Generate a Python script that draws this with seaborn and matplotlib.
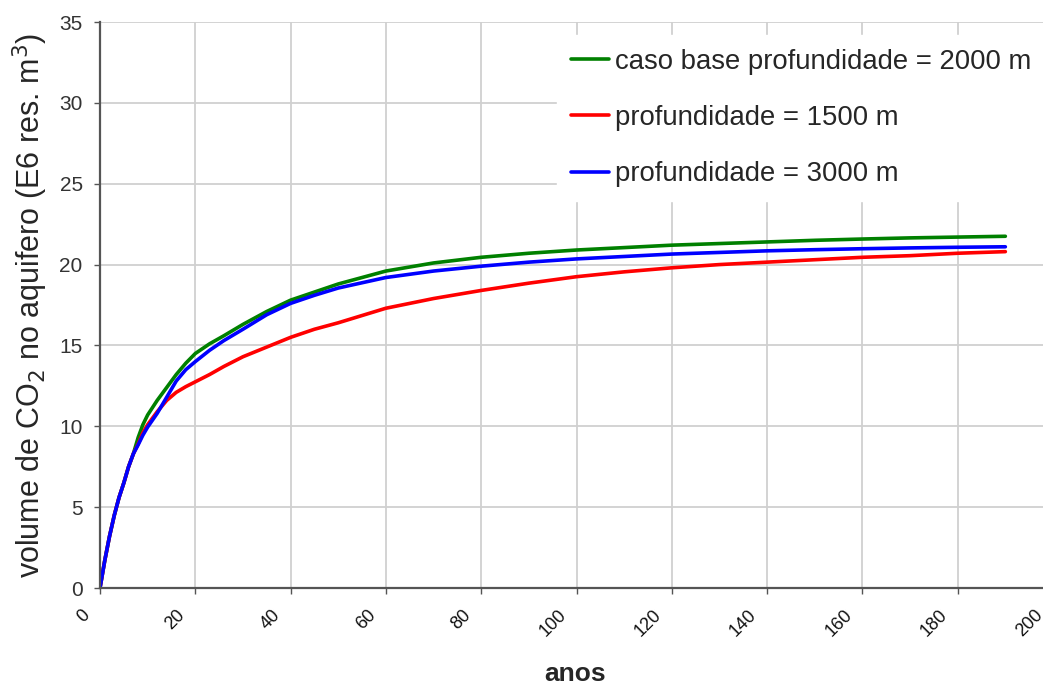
import numpy as np
import pandas as pd
import matplotlib
matplotlib.use("Agg")
import matplotlib.pyplot as plt
import matplotlib.transforms as mtransforms
import seaborn as sns

anos = [0, 1, 2, 3, 4, 5, 6, 7, 8, 9, 10, 12, 14, 16, 18, 20, 23, 26, 30, 35, 40,
        45, 50, 60, 70, 80, 90, 100, 110, 120, 130, 140, 150, 160, 170, 180, 190]
early = [0, 1.7, 3.2, 4.5, 5.6, 6.5, 7.5, 8.3]
base_2000 = early + [9.3, 10.1, 10.7, 11.6, 12.4, 13.2, 13.9, 14.5, 15.1, 15.6, 16.3,
                     17.1, 17.8, 18.3, 18.8, 19.6, 20.1, 20.45, 20.7, 20.9, 21.05,
                     21.2, 21.3, 21.4, 21.5, 21.58, 21.65, 21.7, 21.75]
prof_1500 = early + [8.9, 9.6, 10.1, 10.9, 11.6, 12.1, 12.45, 12.75, 13.2, 13.7, 14.3,
                     14.9, 15.5, 16.0, 16.4, 17.3, 17.9, 18.4, 18.85, 19.25, 19.55,
                     19.8, 20.0, 20.15, 20.3, 20.45, 20.55, 20.7, 20.8]
prof_3000 = early + [8.85, 9.45, 9.95, 10.8, 11.8, 12.8, 13.5, 14.0, 14.7, 15.3, 16.0,
                     16.9, 17.6, 18.1, 18.55, 19.2, 19.6, 19.9, 20.15, 20.35, 20.5,
                     20.65, 20.75, 20.85, 20.92, 20.98, 21.03, 21.07, 21.1]
series_names = ["caso base profundidade = 2000 m", "profundidade = 1500 m",
                "profundidade = 3000 m"]
colors = ["#008000", "#ff0000", "#0000ff"]
x_ticks = list(range(0, 201, 20))
y_ticks = list(range(0, 36, 5))

df = pd.concat([
    pd.DataFrame({"anos": anos, "volume": vals, "serie": name})
    for name, vals in zip(series_names, [base_2000, prof_1500, prof_3000])
])

sns.set_theme(style="white")
plt.rcParams["font.family"] = ["Liberation Sans", "DejaVu Sans"]

fig = plt.figure(figsize=(10.43, 6.88), dpi=100)
W, H = 1043.0, 688.0
ax = fig.add_axes([100 / W, 100 / H, 953 / W, 566 / H])

sns.lineplot(data=df, x="anos", y="volume", hue="serie", hue_order=series_names,
             palette=colors, linewidth=2.6, ax=ax, sort=False)

ax.set_xlim(0, 200)
ax.set_ylim(0, 35)
ax.set_xticks(x_ticks)
ax.set_yticks(y_ticks)
ax.grid(True, color="#d0d0d0", linewidth=1.3)
ax.set_axisbelow(True)
for s in ["top", "right"]:
    ax.spines[s].set_visible(False)
for s in ["left", "bottom"]:
    ax.spines[s].set_color("#555555")
    ax.spines[s].set_linewidth(1.6)
ax.tick_params(axis="both", which="major", direction="out", length=4.5, width=1,
               color="#555555", bottom=True, left=True)
ax.tick_params(axis="y", labelsize=15, labelcolor="#333333", pad=8)
ax.tick_params(axis="x", labelsize=13, labelcolor="#111111", pad=8)
offset = mtransforms.ScaledTranslation(-0.19, -0.01, fig.dpi_scale_trans)
for lab in ax.get_xticklabels():
    lab.set_rotation(45)
    lab.set_ha("right")
    lab.set_rotation_mode("anchor")
    lab.set_transform(lab.get_transform() + offset)

ax.set_xlabel("anos", fontsize=19, fontweight="bold", labelpad=20)
ax.xaxis.set_label_coords(475 / 953, -74 / 566)
ax.set_ylabel("volume de CO$_2$ no aquifero (E6 res. m$^3$)", fontsize=22, labelpad=7)

leg = ax.legend(loc="upper left", bbox_to_anchor=(557 / W, 1 - 35 / H),
                bbox_transform=fig.transFigure, frameon=True,
                fontsize=19.8, handlelength=1.4, handletextpad=0.2, labelspacing=1.1,
                borderpad=0.5, borderaxespad=0)
leg.get_frame().set_facecolor("white")
leg.get_frame().set_edgecolor("white")
leg.get_frame().set_alpha(1.0)
leg.get_frame().set_boxstyle("square", pad=0)
for line in leg.get_lines():
    line.set_linewidth(2.6)

fig.savefig("out.png", dpi=100)
